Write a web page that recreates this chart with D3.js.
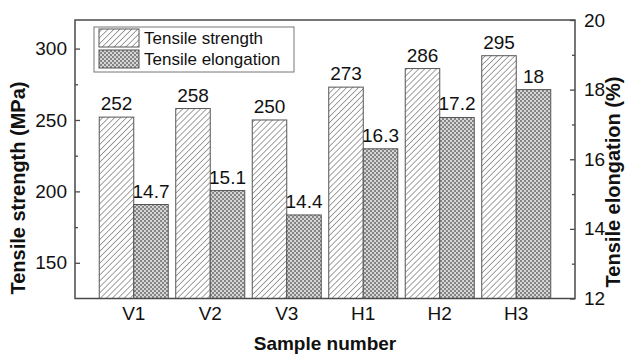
<!DOCTYPE html>
<html>
<head>
<meta charset="utf-8">
<script src="https://cdn.jsdelivr.net/npm/d3@7"></script>
<style>
  body { margin: 0; background: #fff; }
  text { font-family: Arial, "Liberation Sans", sans-serif; fill: #111; }
</style>
</head>
<body>
<div id="chart"></div>
<script>
const samples = ["V1", "V2", "V3", "H1", "H2", "H3"];
const strength = [252, 258, 250, 273, 286, 295];
const elongation = [14.7, 15.1, 14.4, 16.3, 17.2, 18];
const strengthTicks = [150, 200, 250, 300];
const elongTicks = [12, 14, 16, 18, 20];

const width = 629, height = 356;
const plotLeft = 75, plotRight = 575, plotTop = 20, plotBottom = 298.5;
const axisColor = "#4a4a4a";
const font = "Arial, 'Liberation Sans', sans-serif";

const svg = d3.select("#chart").append("svg")
    .attr("width", width)
    .attr("height", height);

const defs = svg.append("defs");
const hatch = defs.append("pattern")
    .attr("id", "hatch")
    .attr("patternUnits", "userSpaceOnUse")
    .attr("width", 4.2).attr("height", 4.2)
    .attr("patternTransform", "rotate(45)");
hatch.append("rect").attr("width", 4.2).attr("height", 4.2).attr("fill", "#fff");
hatch.append("line")
    .attr("x1", 0).attr("y1", 0).attr("x2", 0).attr("y2", 4.2)
    .attr("stroke", "#707070").attr("stroke-width", 1.3);

const cross = defs.append("pattern")
    .attr("id", "cross")
    .attr("patternUnits", "userSpaceOnUse")
    .attr("width", 4).attr("height", 4);
cross.append("rect").attr("width", 4).attr("height", 4).attr("fill", "#d6d6d6");
cross.append("rect").attr("width", 2).attr("height", 2).attr("fill", "#858585");
cross.append("rect").attr("x", 2).attr("y", 2).attr("width", 2).attr("height", 2).attr("fill", "#858585");

const x = d3.scaleBand()
    .domain(samples)
    .range([plotLeft, plotRight])
    .paddingInner(0.098)
    .paddingOuter(0.317);

const yL = d3.scaleLinear().domain([125, 320]).range([plotBottom, plotTop]);
const yR = d3.scaleLinear().domain([12, 20]).range([plotBottom, plotTop]);

const bw = x.bandwidth() / 2;

// strength bars
svg.selectAll(".bar-s")
    .data(samples)
    .join("rect")
    .attr("class", "bar-s")
    .attr("x", d => x(d))
    .attr("y", (d, i) => yL(strength[i]))
    .attr("width", bw)
    .attr("height", (d, i) => plotBottom - yL(strength[i]))
    .attr("fill", "url(#hatch)")
    .attr("stroke", "#555")
    .attr("stroke-width", 1);

// elongation bars
svg.selectAll(".bar-e")
    .data(samples)
    .join("rect")
    .attr("class", "bar-e")
    .attr("x", d => x(d) + bw)
    .attr("y", (d, i) => yR(elongation[i]))
    .attr("width", bw)
    .attr("height", (d, i) => plotBottom - yR(elongation[i]))
    .attr("fill", "url(#cross)")
    .attr("stroke", "#555")
    .attr("stroke-width", 1);

// value labels
svg.selectAll(".lab-s")
    .data(samples)
    .join("text")
    .attr("x", d => x(d) + bw / 2)
    .attr("y", (d, i) => yL(strength[i]) - 7)
    .attr("text-anchor", "middle")
    .style("font-size", "19px")
    .text((d, i) => strength[i]);

svg.selectAll(".lab-e")
    .data(samples)
    .join("text")
    .attr("x", d => x(d) + bw * 1.5)
    .attr("y", (d, i) => yR(elongation[i]) - 7)
    .attr("text-anchor", "middle")
    .style("font-size", "19px")
    .text((d, i) => elongation[i]);

// frame
svg.append("rect")
    .attr("x", plotLeft).attr("y", plotTop)
    .attr("width", plotRight - plotLeft).attr("height", plotBottom - plotTop)
    .attr("fill", "none")
    .attr("stroke", axisColor)
    .attr("stroke-width", 1.5);

// left axis
const axL = svg.append("g").attr("transform", `translate(${plotLeft},0)`)
    .call(d3.axisLeft(yL).tickValues(strengthTicks).tickSize(-5).tickPadding(8));
axL.select(".domain").remove();
axL.selectAll("line").attr("stroke", axisColor).attr("stroke-width", 1.3);
axL.selectAll("text").style("font-size", "19px").style("font-family", font).attr("fill", "#111");
svg.append("g").attr("transform", `translate(${plotLeft},0)`)
    .call(d3.axisLeft(yL).tickValues([175, 225, 275]).tickSize(-3).tickFormat(""))
    .call(g => g.select(".domain").remove())
    .selectAll("line").attr("stroke", axisColor).attr("stroke-width", 1.3);

// right axis
const axR = svg.append("g").attr("transform", `translate(${plotRight},0)`)
    .call(d3.axisRight(yR).tickValues(elongTicks).tickSize(-5).tickPadding(9));
axR.select(".domain").remove();
axR.selectAll("line").attr("stroke", axisColor).attr("stroke-width", 1.3);
axR.selectAll("text").style("font-size", "19px").style("font-family", font).attr("fill", "#111");
svg.append("g").attr("transform", `translate(${plotRight},0)`)
    .call(d3.axisRight(yR).tickValues([13, 15, 17, 19]).tickSize(-3).tickFormat(""))
    .call(g => g.select(".domain").remove())
    .selectAll("line").attr("stroke", axisColor).attr("stroke-width", 1.3);

// x axis labels
const axX = svg.append("g").attr("transform", `translate(0,${plotBottom})`)
    .call(d3.axisBottom(x).tickSize(0).tickPadding(8));
axX.select(".domain").remove();
axX.selectAll("text").style("font-size", "19px").style("font-family", font).attr("fill", "#111");

// axis titles
svg.append("text")
    .attr("x", 325).attr("y", 350)
    .attr("text-anchor", "middle")
    .style("font-size", "19px").style("font-weight", "bold")
    .text("Sample number");

svg.append("text")
    .attr("transform", "translate(25,188) rotate(-90)")
    .attr("text-anchor", "middle")
    .style("font-size", "20px").style("font-weight", "bold")
    .text("Tensile strength (MPa)");

svg.append("text")
    .attr("transform", "translate(620,182) rotate(-90)")
    .attr("text-anchor", "middle")
    .style("font-size", "20px").style("font-weight", "bold")
    .text("Tensile elongation (%)");

// legend
const legend = svg.append("g");
legend.append("rect")
    .attr("x", 94).attr("y", 27).attr("width", 200).attr("height", 45)
    .attr("fill", "#fff").attr("stroke", "#777").attr("stroke-width", 1);
const keys = [["Tensile strength", "url(#hatch)"], ["Tensile elongation", "url(#cross)"]];
keys.forEach(([name, fill], i) => {
    legend.append("rect")
        .attr("x", 99).attr("y", 29 + i * 21).attr("width", 40).attr("height", 18)
        .attr("fill", fill).attr("stroke", "#555").attr("stroke-width", 1);
    legend.append("text")
        .attr("x", 144).attr("y", 44 + i * 21)
        .style("font-size", "17px")
        .text(name);
});
</script>
</body>
</html>
